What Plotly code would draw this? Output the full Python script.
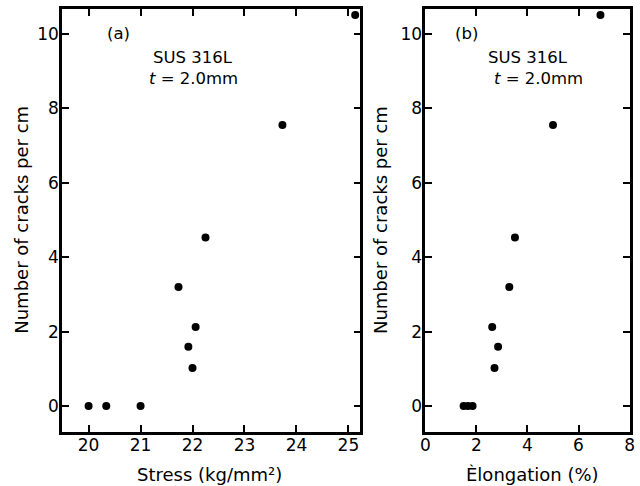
import plotly.graph_objects as go

# Crack density of SUS 316L (t = 2.0 mm) against stress and elongation
cracks_per_cm = [0, 0, 0, 1.02, 1.59, 2.12, 3.2, 4.53, 7.55, 10.51]
stress_kg_mm2 = [20.0, 20.34, 21.0, 22.0, 21.92, 22.06, 21.73, 22.25, 23.73, 25.13]
elongation_pct = [1.5, 1.67, 1.85, 2.71, 2.85, 2.62, 3.29, 3.51, 5.0, 6.86]

stress_ticks = [20, 21, 22, 23, 24, 25]
elong_ticks = [0, 2, 4, 6, 8]
crack_ticks = [0, 2, 4, 6, 8, 10]

FONT = "DejaVu Sans"
INK = "black"

fig = go.Figure()
fig.add_trace(go.Scatter(x=stress_kg_mm2, y=cracks_per_cm, mode="markers",
                         marker=dict(size=8, color=INK), xaxis="x", yaxis="y",
                         showlegend=False, cliponaxis=False))
fig.add_trace(go.Scatter(x=elongation_pct, y=cracks_per_cm, mode="markers",
                         marker=dict(size=8, color=INK), xaxis="x2", yaxis="y2",
                         showlegend=False, cliponaxis=False))

axis_style = dict(showgrid=False, zeroline=False, showline=True, linecolor=INK,
                  linewidth=2.5, mirror="ticks", ticks="inside", ticklen=7,
                  tickwidth=1.5, tickcolor=INK,
                  tickfont=dict(family=FONT, size=17, color=INK))

y_dom = [54 / 486, 477 / 486]
fig.update_layout(
    width=640, height=486,
    margin=dict(l=0, r=0, t=0, b=0),
    paper_bgcolor="white", plot_bgcolor="white",
    xaxis=dict(domain=[58 / 640, 361 / 640], range=[19.49, 25.23],
               tickvals=stress_ticks, anchor="y", ticklabelstandoff=-4,
               **axis_style),
    yaxis=dict(domain=y_dom, range=[-0.7, 10.67], tickvals=crack_ticks,
               anchor="x", ticklabelstandoff=-3, **axis_style),
    xaxis2=dict(domain=[427 / 640, 635 / 640], range=[0, 8.02],
                tickvals=elong_ticks, anchor="y2", ticklabelstandoff=-4,
                **axis_style),
    yaxis2=dict(domain=y_dom, range=[-0.7, 10.67], tickvals=crack_ticks,
                anchor="x2", ticklabelstandoff=-3, **axis_style),
)

title_font = dict(family=FONT, size=18, color=INK)
ann_font = dict(family=FONT, size=16.5, color=INK)
annotations = [
    # axis titles
    dict(text="Stress (kg/mm²)", xref="paper", yref="paper",
         x=208 / 640, y=(486 - 474) / 486, xanchor="center", yanchor="middle",
         showarrow=False, font=title_font),
    dict(text="Èlongation (%)", xref="paper", yref="paper",
         x=536 / 640, y=(486 - 474) / 486, xanchor="center", yanchor="middle",
         showarrow=False, font=title_font),
    dict(text="Number of cracks per cm", xref="paper", yref="paper",
         x=16 / 640, y=(486 - 220) / 486, xanchor="center", yanchor="middle",
         textangle=-90, showarrow=False, font=title_font),
    dict(text="Number of cracks per cm", xref="paper", yref="paper",
         x=381 / 640, y=(486 - 220) / 486, xanchor="center", yanchor="middle",
         textangle=-90, showarrow=False, font=title_font),
    # panel (a) labels
    dict(text="(a)", xref="x", yref="y", x=20.32, y=10.0, xanchor="left",
         showarrow=False, font=ann_font),
    dict(text="SUS 316L", xref="x", yref="y", x=22.0, y=9.37,
         showarrow=False, font=ann_font),
    dict(text="<i>t</i> = 2.0mm", xref="x", yref="y", x=22.02, y=8.8,
         showarrow=False, font=ann_font),
    # panel (b) labels
    dict(text="(b)", xref="x2", yref="y2", x=1.08, y=10.0, xanchor="left",
         showarrow=False, font=ann_font),
    dict(text="SUS 316L", xref="x2", yref="y2", x=4.04, y=9.37,
         showarrow=False, font=ann_font),
    dict(text="<i>t</i> = 2.0mm", xref="x2", yref="y2", x=4.45, y=8.8,
         showarrow=False, font=ann_font),
]
fig.update_layout(annotations=annotations)

fig.write_html("out.html")
